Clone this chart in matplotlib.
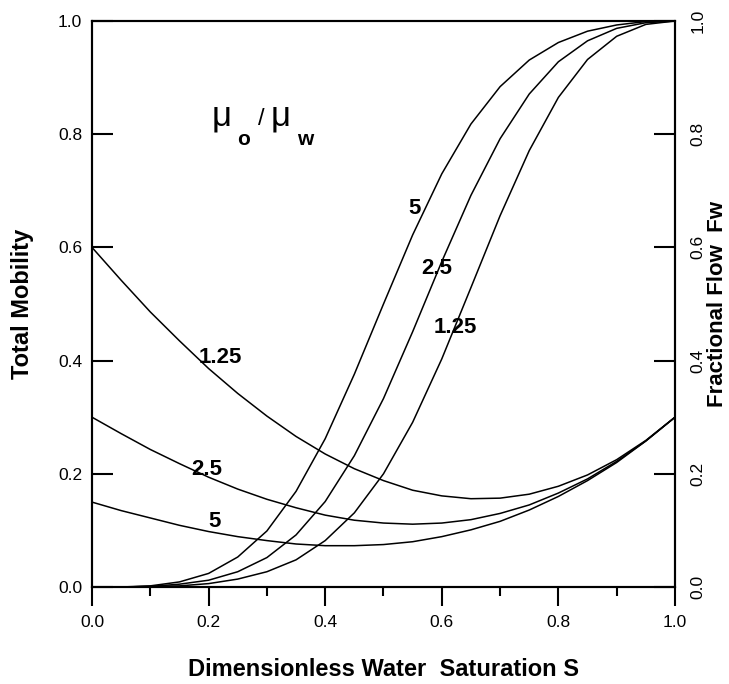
import matplotlib
matplotlib.use("Agg")
import matplotlib.pyplot as plt
from matplotlib.ticker import MultipleLocator

plt.rcParams["font.family"] = ["Liberation Sans", "DejaVu Sans"]

# water saturation grid (curves are drawn as polylines at 0.05 steps)
S = [0.00, 0.05, 0.10, 0.15, 0.20, 0.25, 0.30, 0.35, 0.40, 0.45, 0.50,
     0.55, 0.60, 0.65, 0.70, 0.75, 0.80, 0.85, 0.90, 0.95, 1.00]

# total mobility, one list per viscosity ratio mu_o/mu_w
mob_125 = [0.600, 0.542, 0.486, 0.435, 0.386, 0.342, 0.302, 0.266, 0.235, 0.209, 0.188,
           0.171, 0.161, 0.156, 0.157, 0.164, 0.178, 0.198, 0.225, 0.259, 0.300]
mob_25 = [0.300, 0.271, 0.243, 0.218, 0.194, 0.173, 0.155, 0.140, 0.127, 0.118, 0.113,
          0.111, 0.113, 0.119, 0.130, 0.145, 0.166, 0.191, 0.222, 0.258, 0.300]
mob_5 = [0.150, 0.135, 0.122, 0.109, 0.098, 0.089, 0.082, 0.076, 0.073, 0.073, 0.075,
         0.080, 0.089, 0.101, 0.116, 0.136, 0.160, 0.188, 0.220, 0.258, 0.300]

# fractional flow of water
fw_125 = [0.000, 0.000, 0.001, 0.002, 0.006, 0.014, 0.027, 0.048, 0.082, 0.131, 0.200,
          0.291, 0.403, 0.529, 0.656, 0.771, 0.865, 0.932, 0.973, 0.994, 1.000]
fw_25 = [0.000, 0.000, 0.001, 0.005, 0.012, 0.027, 0.052, 0.092, 0.151, 0.232, 0.333,
         0.451, 0.575, 0.692, 0.792, 0.871, 0.928, 0.965, 0.987, 0.997, 1.000]
fw_5 = [0.000, 0.000, 0.002, 0.009, 0.024, 0.053, 0.099, 0.169, 0.262, 0.376, 0.500,
        0.622, 0.730, 0.818, 0.884, 0.931, 0.962, 0.982, 0.993, 0.999, 1.000]

x_ticks = [0.0, 0.2, 0.4, 0.6, 0.8, 1.0]
y_ticks = [0.0, 0.2, 0.4, 0.6, 0.8, 1.0]

fig = plt.figure(figsize=(7.29, 6.84), dpi=100)
ax = fig.add_axes([0.1262, 0.1418, 0.7997, 0.8275])
ax2 = ax.twinx()

lw = 1.1
for m in (mob_125, mob_25, mob_5):
    ax.plot(S, m, color="black", lw=lw)
for f in (fw_125, fw_25, fw_5):
    ax2.plot(S, f, color="black", lw=lw)

ax.set_xlim(0, 1)
ax.set_ylim(0, 1)
ax2.set_ylim(0, 1)

ax.set_xticks(x_ticks)
ax.set_xticklabels([f"{v:.1f}" for v in x_ticks])
ax.xaxis.set_minor_locator(MultipleLocator(0.1))
ax.set_yticks(y_ticks)
ax.set_yticklabels([f"{v:.1f}" for v in y_ticks])
ax2.set_yticks(y_ticks)
ax2.set_yticklabels([f"{v:.1f}" for v in y_ticks], rotation=90, va="center")

for sp in list(ax.spines.values()) + list(ax2.spines.values()):
    sp.set_linewidth(1.5)

ax.tick_params(axis="x", which="major", direction="out", length=13.5, width=1.5,
               labelsize=12.5, pad=7, top=False)
ax.tick_params(axis="x", which="minor", direction="out", length=6.5, width=1.5, top=False)
ax.tick_params(axis="y", which="major", direction="in", length=15, width=1.5,
               labelsize=12.5, pad=7)
ax2.tick_params(axis="y", which="major", direction="in", length=15, width=1.5,
                labelsize=12.5, pad=11)

ax.set_xlabel("Dimensionless Water  Saturation S", fontsize=17, fontweight="bold", labelpad=20)
ax.set_ylabel("Total Mobility", fontsize=17, fontweight="bold", labelpad=17)
ax2.set_ylabel("Fractional Flow  Fw", fontsize=16, fontweight="bold", rotation=90, labelpad=1)

# curve annotations
lab = dict(fontsize=16, fontweight="bold", ha="center", va="center")
ax.text(0.220, 0.406, "1.25", **lab)
ax.text(0.197, 0.207, "2.5", **lab)
ax.text(0.210, 0.115, "5", **lab)
ax.text(0.554, 0.668, "5", **lab)
ax.text(0.591, 0.563, "2.5", **lab)
ax.text(0.623, 0.459, "1.25", **lab)

# viscosity ratio header
ax.text(0.2045, 0.816, "\u03bc", fontsize=25, ha="left", va="baseline")
ax.text(0.249, 0.781, "o", fontsize=15, fontweight="bold", ha="left", va="baseline")
ax.text(0.285, 0.816, "/", fontsize=17, ha="left", va="baseline")
ax.text(0.306, 0.816, "\u03bc", fontsize=25, ha="left", va="baseline")
ax.text(0.352, 0.781, "w", fontsize=15, fontweight="bold", ha="left", va="baseline")

fig.savefig("out.png", dpi=100)
